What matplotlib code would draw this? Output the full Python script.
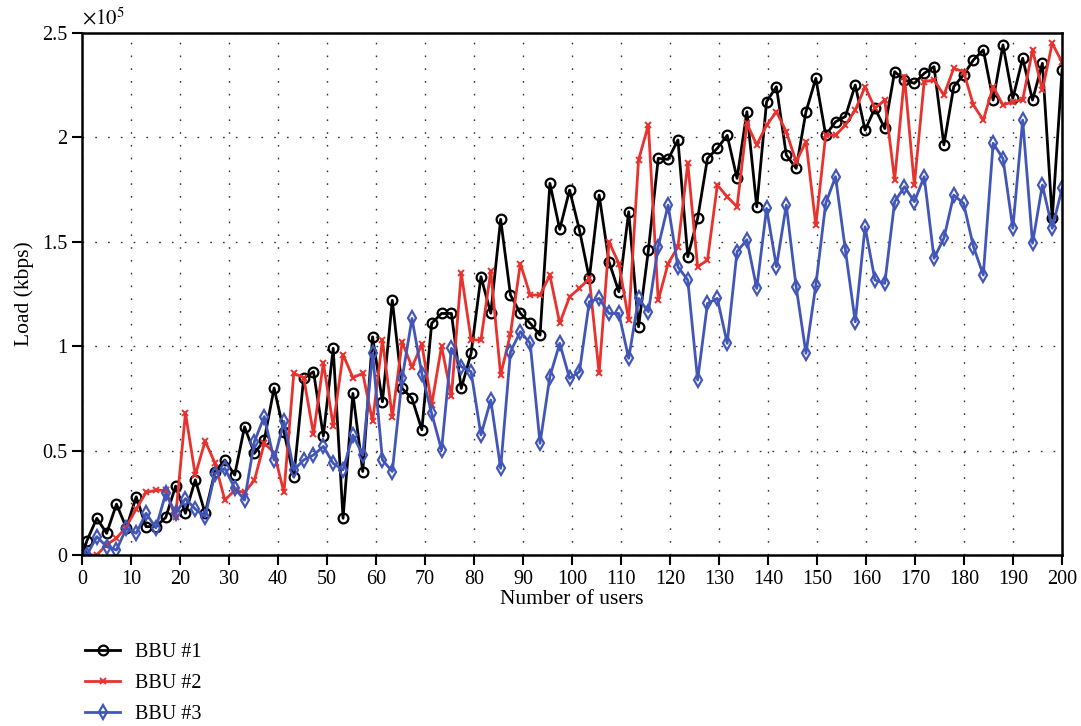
import numpy as np
import matplotlib
matplotlib.use("Agg")
import matplotlib.pyplot as plt

plt.rcParams['font.family'] = ['Liberation Serif', 'DejaVu Serif']
plt.rcParams['mathtext.fontset'] = 'stix'

# number of users (origin + 100 samples)
users = np.concatenate([[0], np.linspace(1, 200, 100)])

# load in units of 1e5 kbps
bbu1 = [0,
        0.069, 0.176, 0.104, 0.244, 0.13, 0.279, 0.136, 0.136, 0.18, 0.33,
        0.2, 0.36, 0.2, 0.40, 0.455, 0.383, 0.614, 0.487, 0.55, 0.8,
        0.59, 0.375, 0.846, 0.878, 0.57, 0.99, 0.176, 0.774, 0.4, 1.045,
        0.734, 1.22, 0.798, 0.75, 0.6, 1.11, 1.157, 1.157, 0.798, 0.966,
        1.333, 1.158, 1.608, 1.245, 1.158, 1.11, 1.053, 1.78, 1.56, 1.748,
        1.557, 1.325, 1.724, 1.405, 1.261, 1.644, 1.093, 1.46, 1.9, 1.895,
        1.988, 1.429, 1.612, 1.9, 1.948, 2.01, 1.804, 2.123, 1.668, 2.171,
        2.243, 1.916, 1.852, 2.123, 2.283, 2.011, 2.075, 2.1, 2.251, 2.035,
        2.14, 2.043, 2.315, 2.275, 2.259, 2.307, 2.339, 1.964, 2.243, 2.3,
        2.371, 2.419, 2.179, 2.443, 2.187, 2.379, 2.179, 2.355, 1.612, 2.323]

bbu2 = [0,
        0.0, 0.0, 0.05, 0.08, 0.136, 0.22, 0.30, 0.31, 0.31, 0.18,
        0.68, 0.383, 0.546, 0.44, 0.263, 0.31, 0.30, 0.358, 0.535, 0.49,
        0.30, 0.87, 0.85, 0.58, 0.92, 0.62, 0.96, 0.85, 0.87, 0.64,
        1.03, 0.66, 1.02, 0.90, 1.01, 0.72, 1.0, 0.76, 1.35, 1.03,
        1.03, 1.36, 0.862, 1.06, 1.396, 1.245, 1.245, 1.34, 1.11, 1.237,
        1.277, 1.325, 0.87, 1.5, 1.396, 1.125, 1.892, 2.06, 1.22, 1.396,
        1.476, 1.876, 1.38, 1.413, 1.772, 1.716, 1.668, 2.067, 1.964, 2.059,
        2.123, 2.027, 1.884, 1.98, 1.58, 2.011, 2.011, 2.059, 2.131, 2.243,
        2.14, 2.179, 1.796, 2.291, 1.772, 2.267, 2.275, 2.203, 2.331, 2.315,
        2.155, 2.083, 2.243, 2.155, 2.171, 2.18, 2.419, 2.227, 2.451, 2.36]

bbu3 = [0,
        0.0, 0.088, 0.04, 0.024, 0.128, 0.104, 0.2, 0.13, 0.295, 0.2,
        0.27, 0.22, 0.183, 0.39, 0.415, 0.32, 0.263, 0.543, 0.663, 0.455,
        0.64, 0.407, 0.455, 0.479, 0.52, 0.439, 0.408, 0.575, 0.479, 0.966,
        0.455, 0.4, 0.846, 1.133, 0.869, 0.678, 0.503, 0.99, 0.902, 0.878,
        0.575, 0.742, 0.415, 0.974, 1.07, 1.014, 0.535, 0.855, 1.014, 0.846,
        0.878, 1.213, 1.229, 1.157, 1.157, 0.942, 1.229, 1.165, 1.477, 1.676,
        1.38, 1.317, 0.838, 1.205, 1.229, 1.014, 1.453, 1.51, 1.277, 1.66,
        1.381, 1.676, 1.285, 0.966, 1.293, 1.684, 1.812, 1.461, 1.117, 1.572,
        1.317, 1.301, 1.692, 1.764, 1.692, 1.812, 1.421, 1.517, 1.724, 1.684,
        1.477, 1.341, 1.972, 1.899, 1.565, 2.083, 1.493, 1.772, 1.565, 1.756]

labels = ['BBU #1', 'BBU #2', 'BBU #3']

fig = plt.figure(figsize=(10.81, 7.26), dpi=100)
ax = fig.add_axes([0.0759, 0.2355, 0.9066, 0.719])

ax.plot(users, bbu1, color='black', lw=2.0, marker='o', ms=7, mfc='none', mew=1.6, label=labels[0])
ax.plot(users, bbu2, color='#e8322e', lw=2.0, marker='x', ms=5, mew=1.4, label=labels[1])
ax.plot(users, bbu3, color='#4256b8', lw=2.0, marker='d', ms=7, mfc='none', mew=1.6, label=labels[2])

ax.set_xlim(0, 200)
ax.set_ylim(0, 2.5)
ax.set_xticks(np.arange(0, 201, 10))
ax.set_yticks([0, 0.5, 1, 1.5, 2, 2.5])
ax.set_yticklabels(['0', '0.5', '1', '1.5', '2', '2.5'])
ax.grid(True, color='#333333', linestyle=(0, (1.2, 8)), linewidth=1.0)
ax.tick_params(direction='out', length=7.5, width=1.5, labelsize=14.5, pad=3)
for s in ax.spines.values():
    s.set_linewidth(1.8)

ax.set_xlabel('Number of users', fontsize=15.5, labelpad=1)
ax.set_ylabel('Load (kbps)', fontsize=15.5, labelpad=6)
ax.text(0.0, 1.006, r'$\times10^5$', transform=ax.transAxes, fontsize=15, va='bottom', ha='left')

fig.legend(loc='upper left', bbox_to_anchor=(0.062, 0.14), frameon=False,
           fontsize=14.5, handlelength=1.75, handletextpad=0.75, labelspacing=0.6)

fig.savefig('out.png', dpi=100)
